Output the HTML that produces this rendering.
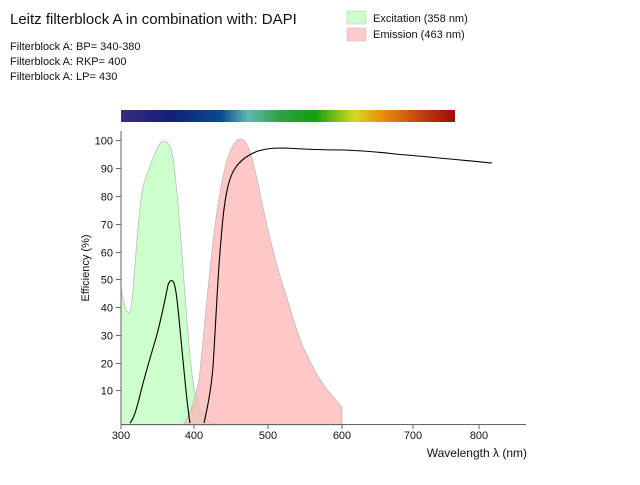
<!DOCTYPE html>
<html><head><meta charset="utf-8"><style>
body{margin:0;background:#fff;width:640px;height:480px;overflow:hidden}
svg{font-family:"Liberation Sans",sans-serif}
</style></head><body>
<svg width="640" height="480" viewBox="0 0 640 480">
<defs>
<linearGradient id="sp" x1="0" x2="1" y1="0" y2="0">
<stop offset="0" stop-color="#3a2a80"/>
<stop offset="0.15" stop-color="#10207a"/>
<stop offset="0.3" stop-color="#0a4a90"/>
<stop offset="0.38" stop-color="#60b8b0"/>
<stop offset="0.48" stop-color="#30a040"/>
<stop offset="0.58" stop-color="#10a010"/>
<stop offset="0.7" stop-color="#d8d820"/>
<stop offset="0.78" stop-color="#e89010"/>
<stop offset="0.9" stop-color="#c04010"/>
<stop offset="1" stop-color="#a00808"/>
</linearGradient>
</defs>
<text x="10" y="24" font-size="15" fill="#111">Leitz filterblock A in combination with: DAPI</text>
<text x="10" y="50" font-size="11" fill="#111">Filterblock A:  BP= 340-380</text>
<text x="10" y="65" font-size="11" fill="#111">Filterblock A:  RKP= 400</text>
<text x="10" y="80" font-size="11" fill="#111">Filterblock A:  LP= 430</text>
<rect x="347" y="11" width="19" height="13" fill="#ccffcc" stroke="#bbb" stroke-width="0.5"/>
<rect x="347" y="28" width="19" height="13" fill="#ffcccc" stroke="#bbb" stroke-width="0.5"/>
<text x="373" y="22" font-size="11" fill="#111">Excitation (358 nm)</text>
<text x="373" y="38" font-size="11" fill="#111">Emission (463 nm)</text>
<rect x="121" y="110" width="334" height="12" fill="url(#sp)"/>
<path d="M121,287 C123,300 126,313 129,313 C134,313 137,200 145,180 C152,162 158,140 164,141 C170,142 172,150 174,165 C177,190 179,215 181,240 C184,280 187,330 191,365 C194,395 198,410 205,418 C210,422 215,424 219,425 L121,425 Z" fill="#ccffcc" stroke="#bbb" stroke-width="0.8"/>
<path d="M183,425 C190,415 195,400 199,380 C203,345 206,305 210,270 C214,230 220,185 227,160 C232,145 236,139 240,139 C245,139 248,145 252,158 C258,180 262,205 268,230 C274,255 280,278 286,295 C293,318 299,340 307,355 C315,372 323,385 330,393 C335,399 339,404 342,407 L342,425 Z" fill="#ffb0b0" fill-opacity="0.7" stroke="#bbb" stroke-width="0.8"/>
<path d="M130,423 C133,420 136,412 140,395 C145,375 150,358 156,338 C161,320 165,300 168,285 C170,280 172,279 174,283 C177,292 179,320 182,350 C185,380 187,405 190,423" fill="none" stroke="#000" stroke-width="1.1"/>
<path d="M204,423 C208,405 211,390 213,367 C216,320 218,270 221,240 C224,200 228,180 234,170 C240,160 248,155 258,151 C268,148 275,148 285,148 C300,149 320,150 345,150 C365,151 380,152 395,154 C420,156 450,159 492,163" fill="none" stroke="#000" stroke-width="1.1"/>
<line x1="121" y1="131" x2="121" y2="424.5" stroke="#666" stroke-width="1"/>
<line x1="121" y1="424.5" x2="526" y2="424.5" stroke="#666" stroke-width="1"/>
<g stroke="#666" stroke-width="1">
<line x1="116" y1="140.5" x2="121" y2="140.5"/><line x1="116" y1="168.5" x2="121" y2="168.5"/><line x1="116" y1="196.5" x2="121" y2="196.5"/><line x1="116" y1="224.5" x2="121" y2="224.5"/><line x1="116" y1="252.5" x2="121" y2="252.5"/><line x1="116" y1="279.5" x2="121" y2="279.5"/><line x1="116" y1="307.5" x2="121" y2="307.5"/><line x1="116" y1="335.5" x2="121" y2="335.5"/><line x1="116" y1="363.5" x2="121" y2="363.5"/><line x1="116" y1="390.5" x2="121" y2="390.5"/>
<line x1="121" y1="424" x2="121" y2="429"/><line x1="194" y1="424" x2="194" y2="429"/><line x1="268" y1="424" x2="268" y2="429"/><line x1="342" y1="424" x2="342" y2="429"/><line x1="413" y1="424" x2="413" y2="429"/><line x1="479" y1="424" x2="479" y2="429"/>
</g>
<g font-size="11" fill="#111" text-anchor="end">
<text x="113" y="144.5">100</text><text x="113" y="172.5">90</text><text x="113" y="200.5">80</text><text x="113" y="228.5">70</text><text x="113" y="256.5">60</text><text x="113" y="283.5">50</text><text x="113" y="311.5">40</text><text x="113" y="339.5">30</text><text x="113" y="367.5">20</text><text x="113" y="394.5">10</text>
</g>
<g font-size="11" fill="#111" text-anchor="middle">
<text x="121" y="439">300</text><text x="194" y="439">400</text><text x="268" y="439">500</text><text x="342" y="439">600</text><text x="413" y="439">700</text><text x="479" y="439">800</text>
</g>
<text x="527" y="457" font-size="12" fill="#111" text-anchor="end">Wavelength  λ (nm)</text>
<text transform="translate(89,268) rotate(-90)" font-size="11" fill="#111" text-anchor="middle">Efficiency (%)</text>
</svg>
</body></html>
